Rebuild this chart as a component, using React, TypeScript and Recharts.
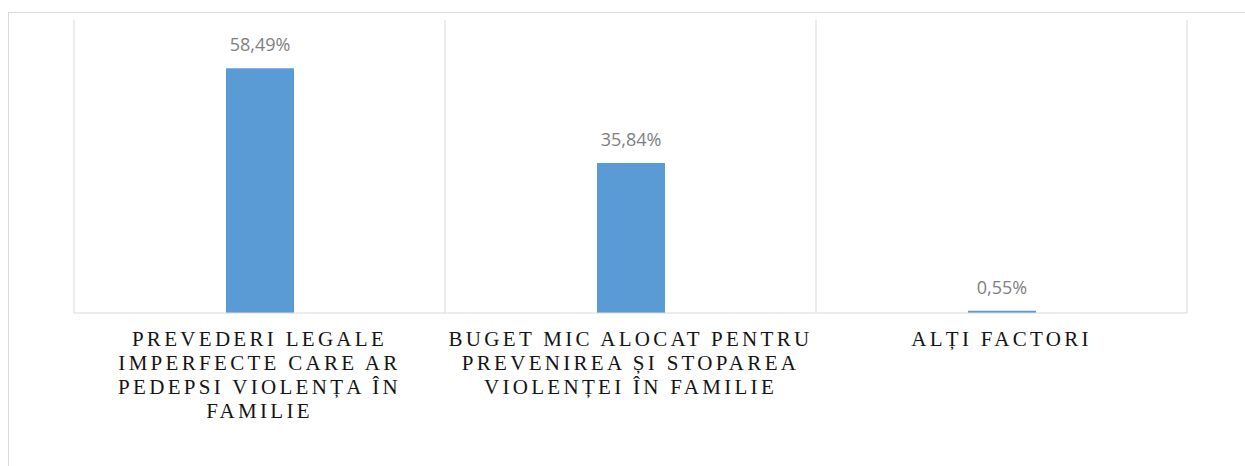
import { Bar, BarChart, CartesianGrid, LabelList, XAxis, YAxis } from "recharts";

const categories = [
  "Prevederi legale imperfecte care ar pedepsi violența în familie",
  "Buget mic alocat pentru prevenirea și stoparea violenței în familie",
  "Alți factori",
];
const shares = [58.49, 35.84, 0.55];
// wrapped tick label lines, as in the original
const tickLines = [
  ["PREVEDERI LEGALE", "IMPERFECTE CARE AR", "PEDEPSI VIOLENȚA ÎN", "FAMILIE"],
  ["BUGET MIC ALOCAT PENTRU", "PREVENIREA ȘI STOPAREA", "VIOLENȚEI ÎN FAMILIE"],
  ["ALȚI FACTORI"],
];

const data = categories.map((name, i) => ({ name, value: shares[i] }));

const fmt = (v: any) => Number(v).toFixed(2).replace(".", ",") + "%";

const CategoryTick = (props: any) => {
  const { x, y, payload } = props;
  const lines = tickLines[payload.index] || [String(payload.value)];
  return (
    <text
      x={x}
      y={y + 25}
      textAnchor="middle"
      fill="#141414"
      style={{ fontFamily: "Liberation Serif", fontSize: 21, letterSpacing: 3.3 }}
    >
      {lines.map((l: string, i: number) => (
        <tspan key={i} x={x} dy={i === 0 ? 0 : 24}>
          {l}
        </tspan>
      ))}
    </text>
  );
};

const App = () => {
  return (
    <div
      style={{
        position: "fixed",
        left: 8,
        top: 12,
        width: 1237,
        height: 454,
        borderTop: "1px solid #d9d9d9",
        borderLeft: "1px solid #d9d9d9",
        background: "#fff",
      }}
    >
      <BarChart
        width={1236}
        height={453}
        data={data}
        margin={{ top: 7, right: 58, bottom: 0, left: 65 }}
      >
        <CartesianGrid
          horizontal={false}
          stroke="#d9d9d9"
          verticalCoordinatesGenerator={({ offset }: any) =>
            [0, 1, 2, 3].map((i) => offset.left + (i * offset.width) / categories.length)
          }
        />
        <XAxis
          dataKey="name"
          interval={0}
          tickLine={false}
          axisLine={{ stroke: "#d9d9d9" }}
          tick={<CategoryTick />}
          height={153}
        />
        <YAxis hide domain={[0, 70]} />
        <Bar dataKey="value" fill="#5b9bd5" barSize={68} isAnimationActive={false}>
          <LabelList
            dataKey="value"
            position="top"
            offset={17}
            formatter={fmt}
            fontFamily="Open Sans"
            fontSize={18}
            fill="#7f7f7f"
          />
        </Bar>
      </BarChart>
    </div>
  );
};

export default App;
